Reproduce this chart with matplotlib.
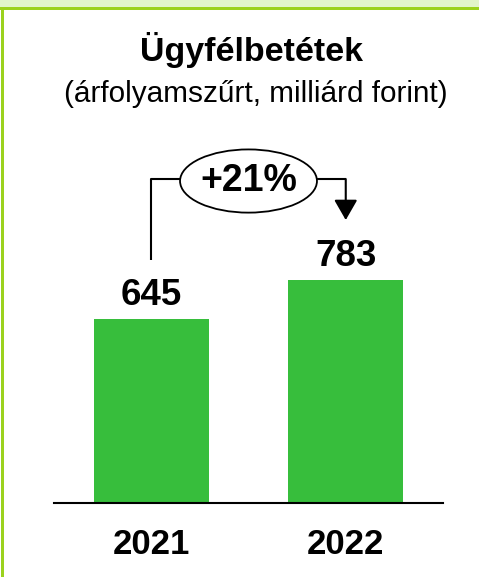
import matplotlib.pyplot as plt
from matplotlib.patches import Rectangle, Ellipse

# Data
years = ['2021', '2022']
deposits = [645, 783]

title = 'Ügyfélbetétek'
subtitle = '(árfolyamszűrt, milliárd forint)'

bar_color = '#37BE3C'
frame_color = '#9BD21E'
band_color = '#E1F5CB'

plt.rcParams['font.family'] = ['Liberation Sans', 'DejaVu Sans']

W, H = 479, 577
fig = plt.figure(figsize=(W / 100, H / 100), dpi=100)
fig.patch.set_facecolor('white')

# Decorative frame: light band on top, green rule, left edge
fig.add_artist(Rectangle((0, 1 - 7 / H), 1, 7 / H, transform=fig.transFigure,
                         facecolor=band_color, edgecolor='none'))
fig.add_artist(Rectangle((0, 1 - 9.5 / H), 1, 2.5 / H, transform=fig.transFigure,
                         facecolor=frame_color, edgecolor='none'))
fig.add_artist(Rectangle((1 / W, 0), 2.5 / W, 1 - 7 / H, transform=fig.transFigure,
                         facecolor=frame_color, edgecolor='none'))

# Titles
fig.text(252 / W, 1 - 61 / H, title, ha='center', va='baseline',
         fontsize=24.5, fontweight='bold')
fig.text(256 / W, 1 - 102 / H, subtitle, ha='center', va='baseline',
         fontsize=21.4)

# Bar axes
ax = fig.add_axes([54 / W, 74 / H, 389 / W, 353 / H])
x = range(len(years))
ax.bar(x, deposits, width=0.59, color=bar_color)
ax.set_xlim(-0.5, 1.5)
ax.set_ylim(0, 1240)

for s in ['left', 'right', 'top']:
    ax.spines[s].set_visible(False)
ax.spines['bottom'].set_linewidth(1.5)
ax.set_yticks([])
ax.set_xticks(list(x))
ax.set_xticklabels(years, fontsize=25, fontweight='bold')
ax.tick_params(axis='x', length=0, pad=18)

for i, v in enumerate(deposits):
    ax.annotate(f'{v}', (i, v), xytext=(0, 10), textcoords='offset points',
                ha='center', va='baseline', fontsize=26.5, fontweight='bold')

# Growth bracket
change = round((deposits[1] / deposits[0] - 1) * 100)
bracket_y = deposits[1] + 355
ax.plot([0, 0, 1], [deposits[0] + 208, bracket_y, bracket_y],
        color='black', lw=1.5, solid_capstyle='butt', clip_on=False)
ax.annotate('', xy=(1, deposits[1] + 211), xytext=(1, bracket_y),
            arrowprops=dict(arrowstyle='-|>,head_length=0.4,head_width=0.23',
                            color='black', lw=1.5, mutation_scale=31,
                            shrinkA=0, shrinkB=0))
ax.add_patch(Ellipse((0.5, bracket_y - 7), 0.704, 222, facecolor='white',
                     edgecolor='black', lw=1.3, zorder=4, clip_on=False))
ax.text(0.5, bracket_y - 7, f'+{change}%', ha='center', va='center',
        fontsize=27, fontweight='bold', zorder=5)

fig.savefig('out.png', dpi=100)
